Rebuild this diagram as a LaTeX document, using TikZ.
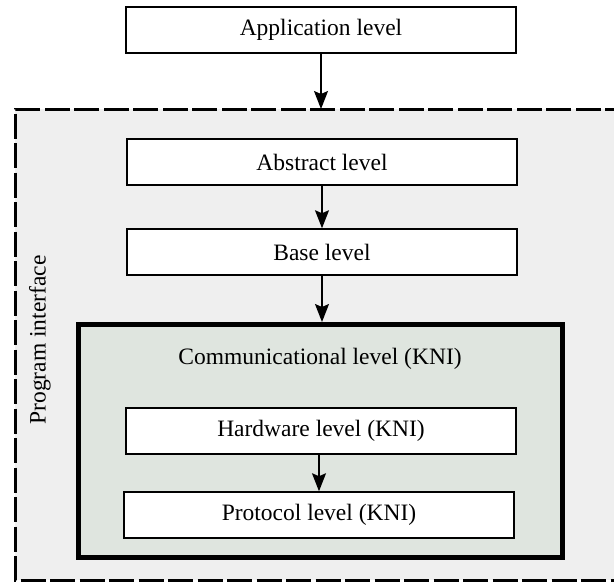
\documentclass[tikz,border=0pt]{standalone}
\usepackage{fontspec}
\setmainfont{Liberation Serif}
\usetikzlibrary{arrows.meta}
\definecolor{outerbg}{HTML}{EFEFEF}
\definecolor{innerbg}{HTML}{DFE5DF}
\begin{document}
\begin{tikzpicture}[x=1pt,y=-1pt,
  lvl/.style={draw=black,line width=1.5pt,fill=white,minimum width=390pt,minimum height=46pt,font=\fontsize{23.5}{26}\selectfont,inner sep=0pt},
  arr/.style={line width=1.5pt,-{Stealth[length=18pt,width=14pt,inset=3pt]}},
  txt/.style={font=\fontsize{23.5}{26}\selectfont,inner sep=0pt}]
\useasboundingbox (0,0) rectangle (614,582);
\fill[white] (0,0) rectangle (614,582);
\path[fill=outerbg] (15,109) rectangle (630,580);
\draw[line width=3pt,dash pattern=on 25pt off 4.5pt] (630,109) -- (15,109) -- (15,580) -- (630,580);
\node[lvl] (app) at (321,30) {Application level};
\coordinate (top) at (321,109);
\node[lvl] (abs) at (322,162) {Abstract level};
\node[lvl] (base) at (322,252) {Base level};
\node[draw=black,line width=5pt,fill=innerbg,minimum width=484pt,minimum height=233pt,inner sep=0pt] (kni) at (320.5,441) {};
\node[txt] (knil) at (320,359) {Communicational level (KNI)};
\node[lvl] (hw) at (321,431) {Hardware level (KNI)};
\node[lvl] (pr) at (319,515) {Protocol level (KNI)};
\node[txt,rotate=90] (pi) at (40,340) {Program interface};
\draw[arr] (app) -- (top);
\draw[arr] (abs) -- (base);
\draw[arr] (base) -- (base |- kni.north);
\draw[arr] (hw.south -| pr.north) -- (pr);
\end{tikzpicture}
\end{document}
